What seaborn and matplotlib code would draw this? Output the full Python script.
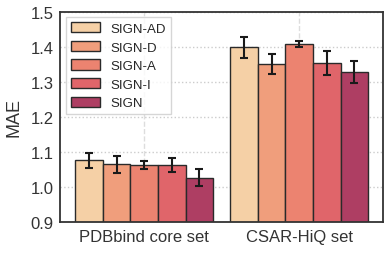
import numpy as np
import pandas as pd
import seaborn as sns
import matplotlib.pyplot as plt

sns.set_style("whitegrid")
plt.rcParams['font.family'] = ['Liberation Sans', 'DejaVu Sans']

datasets = ["PDBbind core set", "CSAR-HiQ set"]
models = ["SIGN-AD", "SIGN-D", "SIGN-A", "SIGN-I", "SIGN"]
colors = ["#f5d0a6", "#f09e7c", "#ec8370", "#e0656a", "#ae3e63"]

# mean MAE per dataset (rows) and model (cols)
mae = [[1.076, 1.065, 1.062, 1.063, 1.027],
       [1.399, 1.351, 1.409, 1.354, 1.328]]
err = [[0.022, 0.024, 0.011, 0.019, 0.024],
       [0.030, 0.028, 0.009, 0.035, 0.031]]

rows = []
for i, d in enumerate(datasets):
    for j, m in enumerate(models):
        rows.append({"set": d, "model": m, "MAE": mae[i][j], "err": err[i][j]})
df = pd.DataFrame(rows)

fig, ax = plt.subplots(figsize=(3.9, 2.55), dpi=100)
sns.barplot(data=df, x="set", y="MAE", hue="model", palette=colors,
            errorbar=None, width=0.89, edgecolor="#2a2a2a", linewidth=1.0,
            saturation=1, ax=ax)

# error bars at bar centres
for j, m in enumerate(models):
    cont = ax.containers[j]
    xs = [p.get_x() + p.get_width() / 2 for p in cont]
    sub = df[df["model"] == m]
    ax.errorbar(xs, sub["MAE"], yerr=sub["err"], fmt="none",
                ecolor="#1a1a1a", elinewidth=1.5, capsize=3, capthick=1.5)

ax.set_ylim(0.9, 1.5)
ax.set_xlim(-0.54, 1.54)
ax.set_yticks([0.9, 1.0, 1.1, 1.2, 1.3, 1.4, 1.5])
ax.set_xlabel("")
ax.set_ylabel("MAE", fontsize=13, color="#333333", labelpad=6)
ax.tick_params(axis="both", labelsize=12, colors="#333333", length=0, pad=5)
ax.grid(True, linestyle=":", color="#cccccc", linewidth=1)
ax.xaxis.grid(True, linestyle="--", color="#dddddd", linewidth=1)
ax.set_axisbelow(True)
for s in ax.spines.values():
    s.set_color("#333333")
    s.set_linewidth(1.3)

leg = ax.legend(loc="upper left", fontsize=9.5, frameon=True, fancybox=False,
                handlelength=2.2, handleheight=0.8, labelspacing=0.45,
                borderaxespad=0.4)
leg.get_frame().set_edgecolor("#cccccc")
leg.get_frame().set_linewidth(1)

plt.subplots_adjust(left=0.155, right=0.982, top=0.95, bottom=0.125)
plt.savefig("out.png", dpi=100)
